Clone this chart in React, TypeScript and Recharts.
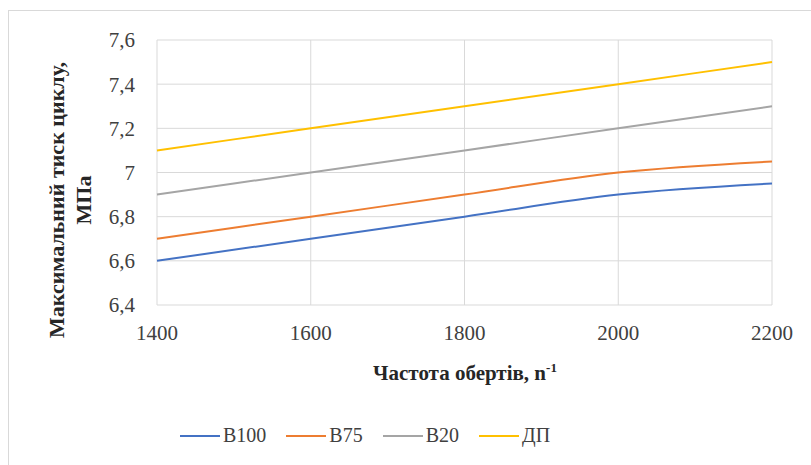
import { LineChart, Line, XAxis, YAxis, CartesianGrid } from 'recharts';

const rpm = [1400, 1600, 1800, 2000, 2200];
const b100 = [6.6, 6.7, 6.8, 6.9, 6.95];
const b75 = [6.7, 6.8, 6.9, 7.0, 7.05];
const b20 = [6.9, 7.0, 7.1, 7.2, 7.3];
const dp = [7.1, 7.2, 7.3, 7.4, 7.5];
const yTicks = [6.4, 6.6, 6.8, 7.0, 7.2, 7.4, 7.6];

const series = [
  { key: 'b100', name: 'B100', color: '#4472C4' },
  { key: 'b75', name: 'B75', color: '#ED7D31' },
  { key: 'b20', name: 'B20', color: '#A5A5A5' },
  { key: 'dp', name: 'ДП', color: '#FFC000' },
];

const data = rpm.map((n, i) => ({ n, b100: b100[i], b75: b75[i], b20: b20[i], dp: dp[i] }));

const font = 'Liberation Serif';

export default function App() {
  return (
    <div style={{ position: 'fixed', left: 0, top: 0, width: 811, height: 465, background: '#fff', overflow: 'hidden', fontFamily: font }}>
      {/* рамка */}
      <div style={{ position: 'absolute', left: 8, top: 10, width: 820, height: 470, border: '1px solid #d9d9d9' }} />
      <LineChart width={811} height={465} data={data} margin={{ top: 40, right: 39, bottom: 130, left: 97 }} style={{ fontFamily: font }}>
        <CartesianGrid stroke="#d9d9d9" />
        <XAxis
          dataKey="n"
          type="number"
          domain={[1400, 2200]}
          ticks={rpm}
          tickLine={false}
          axisLine={false}
          tickMargin={14}
          height={30}
          fontFamily={font}
          tick={{ fontSize: 21, fill: '#404040', fontFamily: font }}
        />
        <YAxis
          domain={[6.4, 7.6]}
          ticks={yTicks}
          tickLine={false}
          axisLine={false}
          width={60}
          tickMargin={16}
          fontFamily={font}
          tickFormatter={(v: number) => String(Math.round(v * 10) / 10).replace('.', ',')}
          tick={{ fontSize: 21, fill: '#404040', fontFamily: font }}
        />
        {series.map((s) => (
          <Line
            key={s.key}
            type="monotone"
            dataKey={s.key}
            name={s.name}
            stroke={s.color}
            strokeWidth={2}
            dot={false}
            isAnimationActive={false}
          />
        ))}
        <text x={465} y={380} textAnchor="middle" fontFamily={font} fontSize={21} fontWeight="bold" fill="#262626">
          Частота обертів, n<tspan dy={-8} fontSize={13}>-1</tspan>
        </text>
        <g transform="translate(64 200) rotate(-90)">
          <text x={0} y={0} textAnchor="middle" fontFamily={font} fontSize={22} fontWeight="bold" fill="#262626">
            Максимальний тиск циклу,
          </text>
          <text x={0} y={27} textAnchor="middle" fontFamily={font} fontSize={22} fontWeight="bold" fill="#262626">
            МПа
          </text>
        </g>
      </LineChart>
      {/* легенда */}
      <div style={{ position: 'absolute', left: 180, top: 424, display: 'flex', gap: '20px', fontSize: '20px', color: '#404040' }}>
        {series.map((s) => (
          <div key={s.key} style={{ display: 'flex', alignItems: 'center' }}>
            <span style={{ display: 'inline-block', width: '40px', height: '2px', background: s.color, marginRight: '3px' }} />
            <span>{s.name}</span>
          </div>
        ))}
      </div>
    </div>
  );
}
